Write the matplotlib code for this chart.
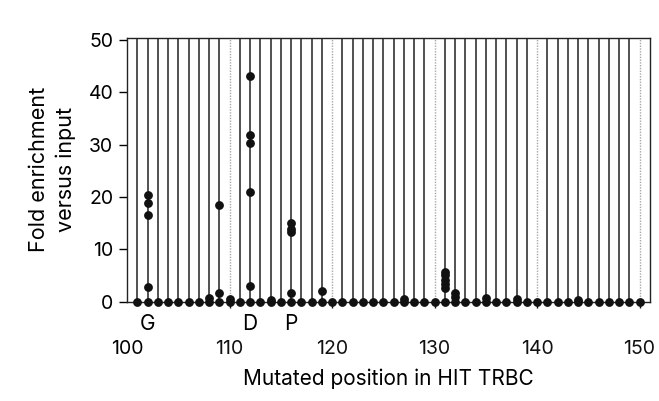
import matplotlib.pyplot as plt
import matplotlib as mpl

mpl.rcParams.update({
    "font.family": ["Inter", "DejaVu Sans"],
    "font.size": 14,
    "axes.linewidth": 1.0,
    "xtick.major.width": 1.0,
    "ytick.major.width": 1.0,
})

# --- data ---
positions = list(range(101, 151))
baseline = [0.0] * len(positions)

# replicate values above the baseline (position, fold enrichment)
hit_pos = [102, 102, 102, 102,
           108,
           109, 109,
           110,
           112, 112, 112, 112, 112,
           114,
           116, 116, 116, 116,
           119,
           127,
           131, 131, 131, 131, 131,
           132, 132,
           135, 138, 144]
hit_val = [20.3, 18.9, 16.6, 2.7,
           0.7,
           18.5, 1.6,
           0.4,
           43.2, 31.9, 30.3, 21.0, 3.0,
           0.3,
           15.0, 13.8, 13.3, 1.7,
           2.0,
           0.5,
           5.7, 5.0, 4.1, 3.3, 2.6,
           1.6, 0.9,
           0.6, 0.4, 0.3]

residue_pos = [102, 112, 116]
residue_lab = ["G", "D", "P"]

fig = plt.figure(figsize=(6.59, 4.01), dpi=100)
ax = fig.add_axes([0.193, 0.248, 0.793, 0.658])

ymax = 50.45
for p in positions:
    if p % 10 == 0:
        ax.plot([p, p], [0, ymax], color="#a8a8a8", lw=1.0,
                linestyle=(0, (1, 1)), zorder=1)
    else:
        ax.plot([p, p], [0, ymax], color="#222222", lw=1.1, zorder=1)

ax.plot(positions, baseline, "o", color="#111111", markersize=5.3,
        clip_on=False, zorder=3)
ax.plot(hit_pos, hit_val, "o", color="#111111", markersize=5.3,
        clip_on=False, zorder=3)

xlab_pad = 24
ax.set_xlim(100, 151)
ax.set_ylim(0, ymax)
ax.set_xticks([110, 120, 130, 140, 150])
ax.set_yticks([0, 10, 20, 30, 40, 50])
ax.tick_params(axis="x", length=4, pad=xlab_pad, colors="#111111")
ax.tick_params(axis="y", length=6, pad=4)
for sp in ax.spines.values():
    sp.set_color("#222222")

# label "100" sits on the left spine without a tick mark
ax.annotate("100", xy=(100, 0), xycoords=ax.get_xaxis_transform(),
            xytext=(0, -(4 + xlab_pad)), textcoords="offset points",
            ha="center", va="top", fontsize=14)

for p, lab in zip(residue_pos, residue_lab):
    ax.annotate(lab, xy=(p, 0), xycoords=ax.get_xaxis_transform(),
                xytext=(0, -9), textcoords="offset points",
                ha="center", va="top", fontsize=15)

ax.set_xlabel("Mutated position in HIT TRBC", fontsize=15, labelpad=7)
ax.set_ylabel("Fold enrichment\nversus input", fontsize=15.5,
              linespacing=1.4, labelpad=9)

fig.savefig("out.png", dpi=100)
